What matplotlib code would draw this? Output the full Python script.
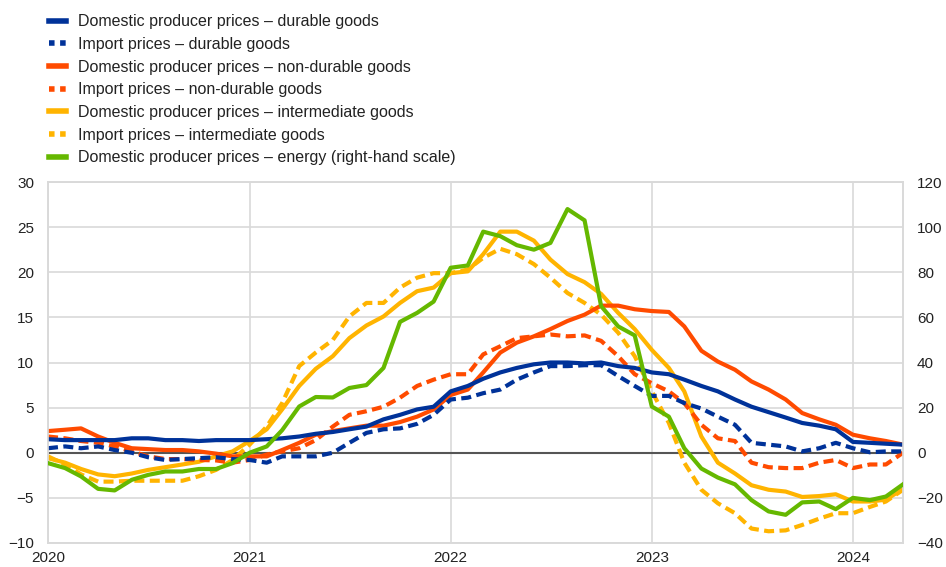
"""
Producer and import prices by goods category, annual percentage changes.
"""

import matplotlib.pyplot as plt
import matplotlib.dates as mdates
import pandas as pd
from matplotlib.lines import Line2D

# -------------------------------------------------------------------------
# Data (monthly, Jan 2020 - Apr 2024)
# -------------------------------------------------------------------------

months = pd.date_range("2020-01-01", "2024-04-01", freq="MS")

dom_durable = [
    1.5, 1.4, 1.4, 1.4, 1.4, 1.6, 1.6, 1.4, 1.4, 1.3, 1.4, 1.4,
    1.4, 1.5, 1.6, 1.8, 2.1, 2.3, 2.6, 2.9, 3.7, 4.2, 4.8, 5.1,
    6.8, 7.4, 8.2, 8.9, 9.4, 9.8, 10.0, 10.0, 9.9, 10.0, 9.6, 9.4,
    8.9, 8.7, 8.1, 7.4, 6.8, 5.9, 5.1, 4.5, 3.9, 3.3, 3.0, 2.6,
    1.2, 1.1, 1.0, 0.9,
]
imp_durable = [
    0.5, 0.7, 0.5, 0.7, 0.3, 0.0, -0.5, -0.8, -0.7, -0.6, -0.5, -0.7,
    -0.8, -1.1, -0.4, -0.4, -0.4, 0.0, 1.1, 2.2, 2.6, 2.7, 3.2, 4.2,
    5.9, 6.1, 6.6, 7.0, 8.1, 8.9, 9.6, 9.6, 9.7, 9.7, 8.5, 7.4,
    6.3, 6.3, 5.5, 4.9, 4.0, 3.1, 1.1, 0.9, 0.7, 0.15, 0.5, 1.1,
    0.5, 0.05, 0.15, 0.15,
]
dom_nondurable = [
    2.4, 2.55, 2.7, 1.8, 1.1, 0.5, 0.4, 0.3, 0.3, 0.15, -0.1, -0.4,
    -0.4, -0.4, 0.3, 1.1, 2.0, 2.4, 2.7, 3.0, 3.0, 3.4, 4.0, 4.8,
    6.4, 7.0, 8.9, 11.1, 12.2, 12.9, 13.7, 14.6, 15.3, 16.3, 16.3, 15.9,
    15.7, 15.6, 14.0, 11.3, 10.1, 9.2, 7.9, 7.0, 5.9, 4.4, 3.7, 3.1,
    2.0, 1.6, 1.3, 0.9,
]
imp_nondurable = [
    1.8, 1.6, 1.3, 1.1, 0.7, 0.15, -0.4, -0.7, -0.7, -0.8, -0.85, -1.1,
    -0.8, -0.2, 0.15, 0.5, 1.4, 2.9, 4.2, 4.6, 5.1, 6.1, 7.4, 8.1,
    8.7, 8.7, 10.9, 11.8, 12.7, 12.9, 13.1, 12.9, 13.0, 12.4, 10.7, 8.7,
    7.7, 6.8, 5.5, 3.1, 1.6, 1.3, -1.1, -1.6, -1.7, -1.7, -1.1, -0.8,
    -1.7, -1.3, -1.3, 0.0,
]
dom_intermediate = [
    -0.6, -1.1, -1.8, -2.4, -2.6, -2.3, -1.9, -1.6, -1.3, -1.0, -0.4, 0.15,
    1.3, 2.6, 4.8, 7.4, 9.3, 10.7, 12.7, 14.1, 15.1, 16.6, 17.9, 18.3,
    19.9, 20.1, 22.0, 24.5, 24.5, 23.5, 21.4, 19.8, 18.9, 17.6, 15.5, 13.7,
    11.4, 9.4, 6.8, 1.8, -1.1, -2.3, -3.6, -4.1, -4.3, -4.9, -4.8, -4.6,
    -5.4, -5.4, -5.2, -4.0,
]
imp_intermediate = [
    -0.4, -1.3, -2.4, -3.2, -3.2, -3.1, -3.1, -3.1, -3.1, -2.6, -1.9, -0.8,
    0.9, 2.9, 5.5, 9.6, 11.1, 12.5, 15.1, 16.6, 16.6, 18.3, 19.4, 19.9,
    19.9, 20.3, 21.6, 22.6, 22.0, 20.9, 19.4, 17.7, 16.6, 15.3, 13.3, 10.7,
    6.8, 3.3, -1.1, -4.1, -5.6, -6.7, -8.4, -8.7, -8.6, -8.0, -7.3, -6.7,
    -6.7, -6.0, -5.4, -4.1,
]
dom_energy = [
    -4.6, -6.8, -10.5, -16.0, -16.7, -12.0, -9.8, -8.3, -8.3, -7.2, -7.2, -4.6,
    0.0, 2.8, 10.0, 20.5, 24.7, 24.5, 28.7, 30.0, 37.6, 58.0, 62.0, 67.0,
    82.0, 83.0, 98.0, 96.0, 92.0, 90.0, 93.0, 108.0, 103.0, 65.0, 56.0, 52.0,
    20.5, 16.0, 2.0, -7.0, -11.0, -14.0, -21.0, -26.0, -27.5, -22.0, -21.6, -25.0,
    -20.0, -21.0, -19.4, -14.0,
]

labels = [
    "Domestic producer prices \u2013 durable goods",
    "Import prices \u2013 durable goods",
    "Domestic producer prices \u2013 non-durable goods",
    "Import prices \u2013 non-durable goods",
    "Domestic producer prices \u2013 intermediate goods",
    "Import prices \u2013 intermediate goods",
    "Domestic producer prices \u2013 energy (right-hand scale)",
]

# -------------------------------------------------------------------------
# Style
# -------------------------------------------------------------------------

NAVY = "#003299"
ORANGE = "#FF4B00"
YELLOW = "#FFB400"
GREEN = "#65B800"
GRID = "#D9D9D9"
TXT = "#222222"

LW = 3.0
DASH = (2.4, 1.3)

plt.rcParams["font.family"] = ["Liberation Sans", "DejaVu Sans"]

fig = plt.figure(figsize=(9.46, 5.67), dpi=100)
ax = fig.add_axes([48 / 946, 1 - 543 / 567, (903 - 48) / 946, (543 - 182) / 567])
ax2 = ax.twinx()

# -------------------------------------------------------------------------
# Lines
# -------------------------------------------------------------------------

ax.axhline(0, color="#555555", lw=1.5, zorder=1)

ax.plot(months, imp_intermediate, color=YELLOW, lw=LW, dashes=DASH, zorder=3)
ax.plot(months, dom_intermediate, color=YELLOW, lw=LW, zorder=3)
ax.plot(months, imp_nondurable, color=ORANGE, lw=LW, dashes=DASH, zorder=3)
ax.plot(months, dom_nondurable, color=ORANGE, lw=LW, zorder=3)
ax.plot(months, imp_durable, color=NAVY, lw=LW, dashes=DASH, zorder=3)
ax.plot(months, dom_durable, color=NAVY, lw=LW, zorder=3)
ax2.plot(months, dom_energy, color=GREEN, lw=LW, zorder=3)

# -------------------------------------------------------------------------
# Axes
# -------------------------------------------------------------------------

ax.set_xlim(months[0], months[-1])
ax.set_ylim(-10, 30)
ax2.set_ylim(-40, 120)
ax.set_yticks(range(-10, 31, 5))
ax2.set_yticks(range(-40, 121, 20))

ax.xaxis.set_major_locator(mdates.YearLocator())
ax.xaxis.set_major_formatter(mdates.DateFormatter("%Y"))

ax.grid(True, color=GRID, lw=1.2, zorder=0)
ax.set_axisbelow(True)

for a in (ax, ax2):
    for s in a.spines.values():
        s.set_color(GRID)
        s.set_linewidth(1.2)
    a.tick_params(length=0, labelsize=11, colors=TXT)
ax.tick_params(axis="y", pad=10)
ax.tick_params(axis="x", pad=6)
ax2.tick_params(axis="y", pad=10)

# green drawn on top of the left-axis lines
ax.set_zorder(1)
ax2.set_zorder(2)
ax2.patch.set_visible(False)

# -------------------------------------------------------------------------
# Legend
# -------------------------------------------------------------------------

handles = [
    Line2D([], [], color=NAVY, lw=4),
    Line2D([], [], color=NAVY, lw=4, dashes=(1, 1)),
    Line2D([], [], color=ORANGE, lw=4),
    Line2D([], [], color=ORANGE, lw=4, dashes=(1, 1)),
    Line2D([], [], color=YELLOW, lw=4),
    Line2D([], [], color=YELLOW, lw=4, dashes=(1, 1)),
    Line2D([], [], color=GREEN, lw=4),
]
fig.legend(handles, labels, loc="upper left", bbox_to_anchor=(35 / 946, 1.0),
           frameon=False, fontsize=11.5, handlelength=1.05, handletextpad=0.75,
           labelspacing=0.48, labelcolor=TXT)

fig.savefig("out.png", dpi=100)
